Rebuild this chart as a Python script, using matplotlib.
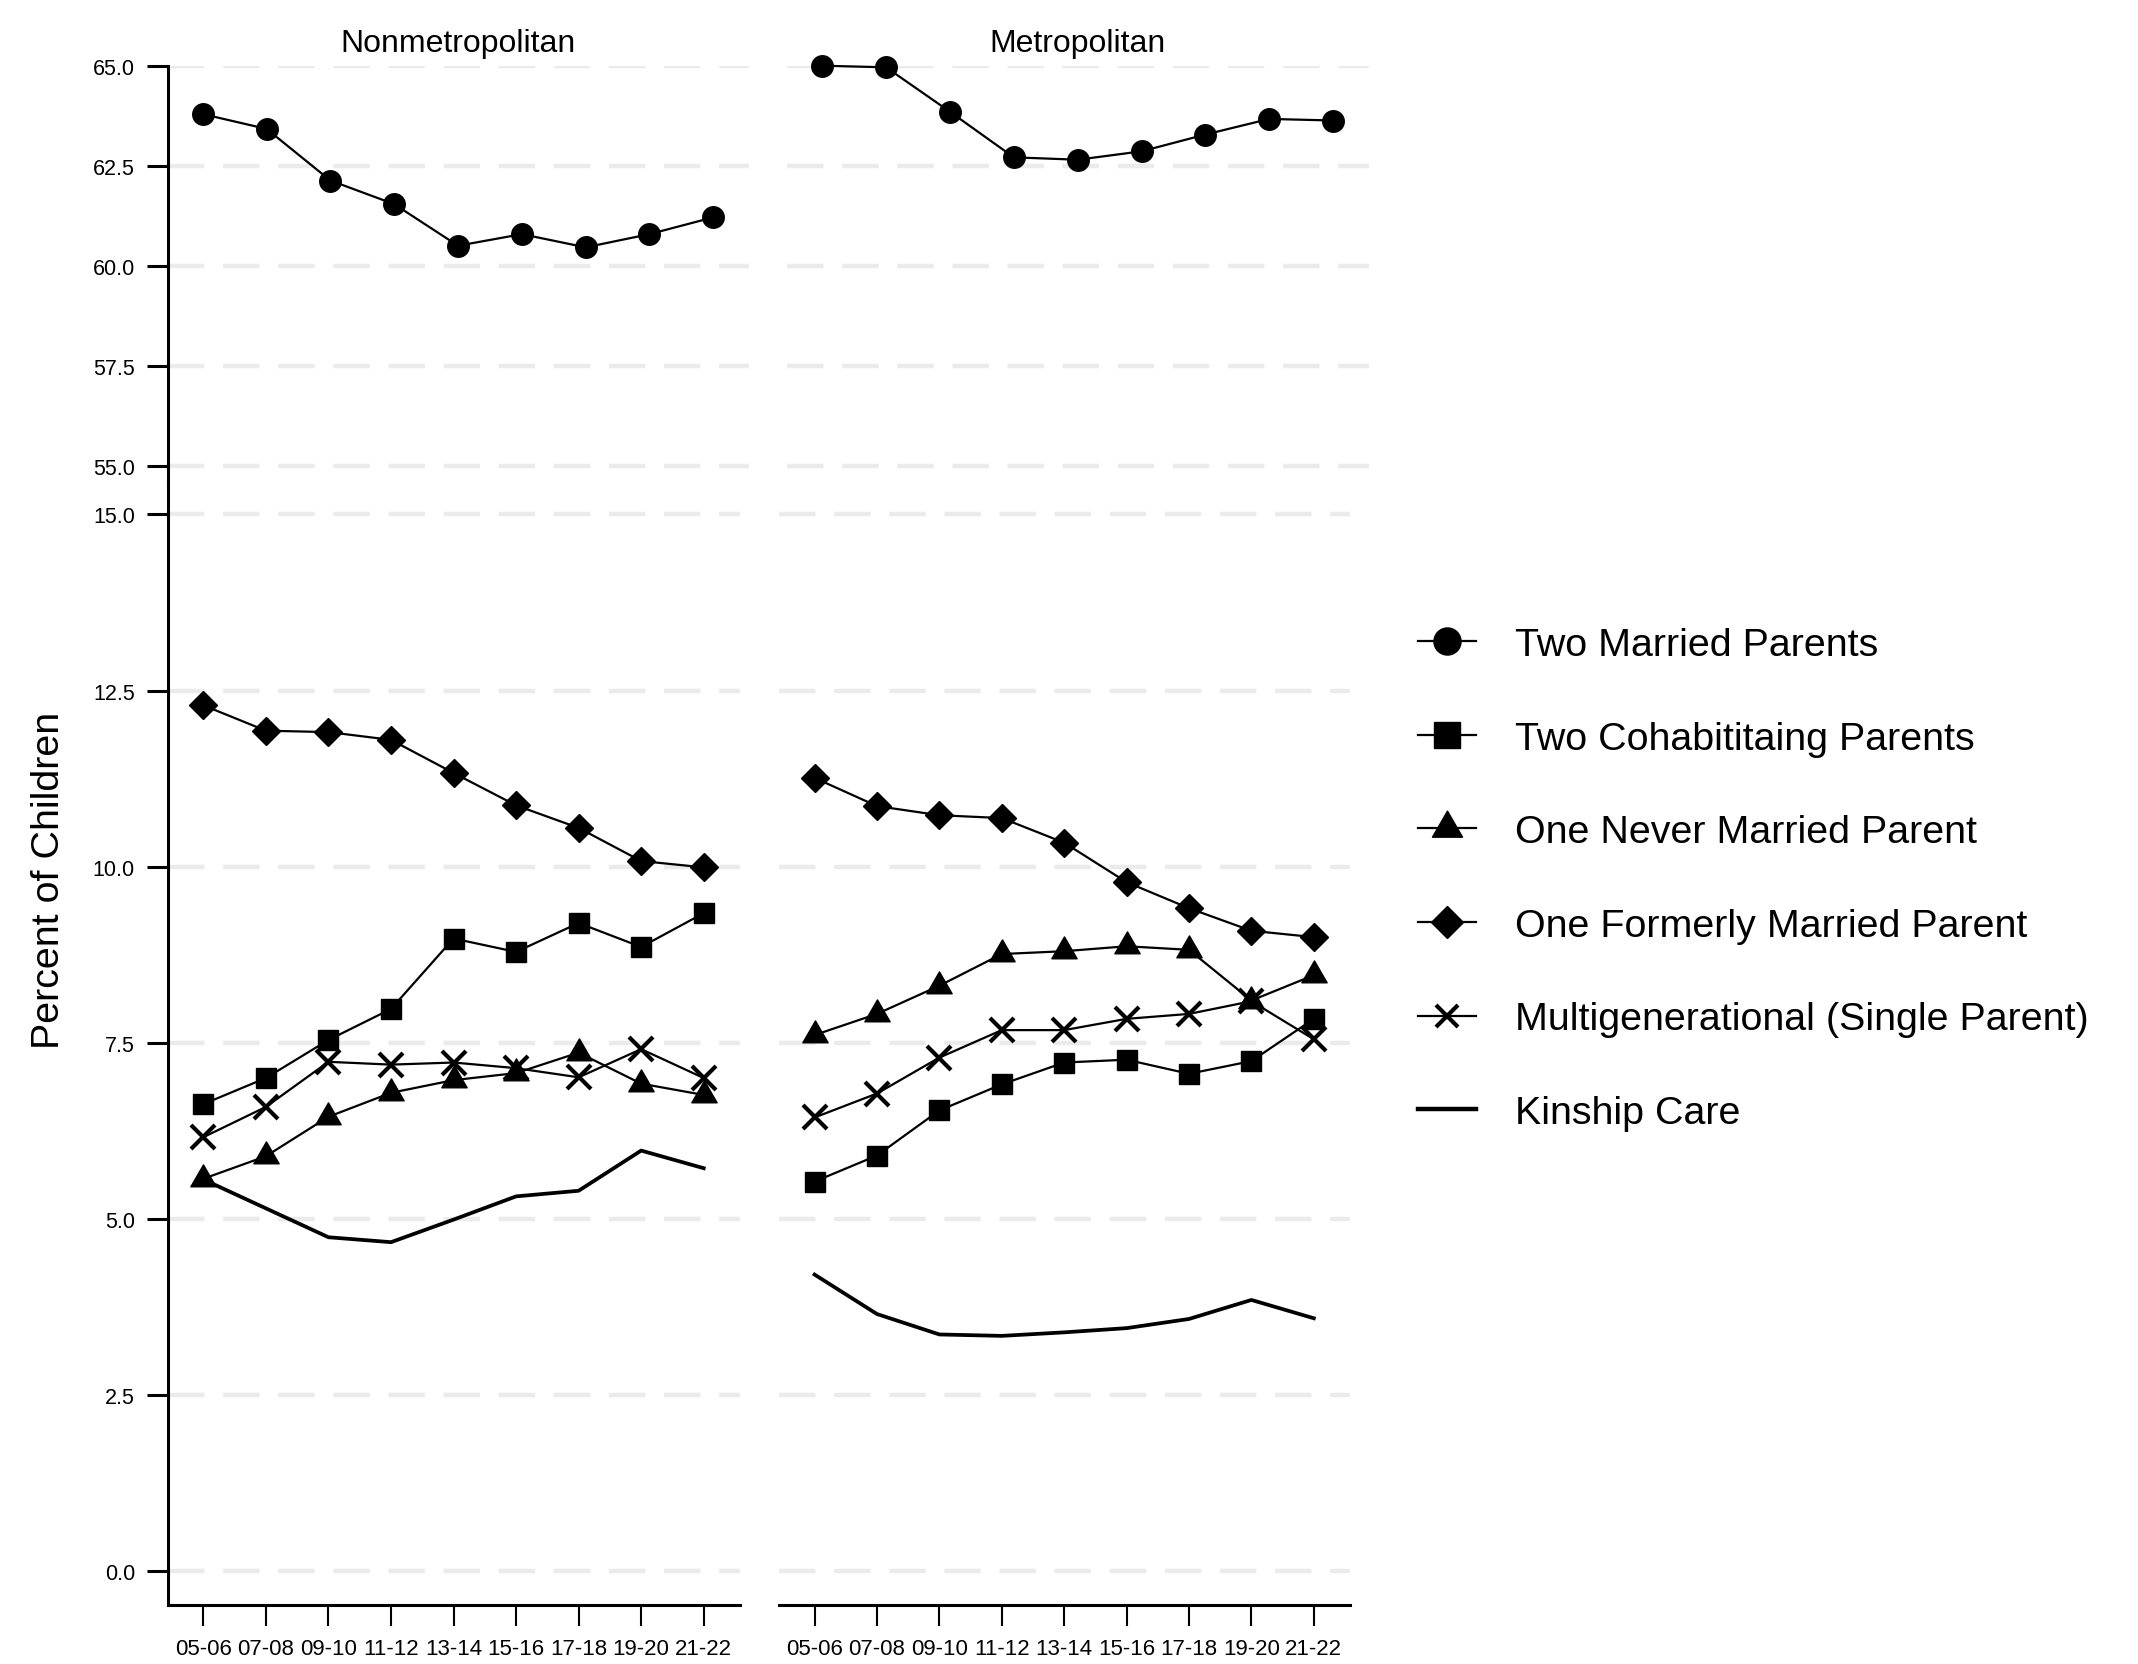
import matplotlib
matplotlib.use("Agg")
import matplotlib.pyplot as plt
from matplotlib.lines import Line2D
from matplotlib.path import Path

plt.rcParams['font.family'] = ['Liberation Sans', 'DejaVu Sans']

# ---- data -------------------------------------------------------------
periods = ["05-06", "07-08", "09-10", "11-12", "13-14", "15-16", "17-18", "19-20", "21-22"]
regions = ["Nonmetropolitan", "Metropolitan"]
series_names = ["Two Married Parents", "Two Cohabititaing Parents", "One Never Married Parent",
                "One Formerly Married Parent", "Multigenerational (Single Parent)", "Kinship Care"]

two_married_nonmetro = [63.79, 63.42, 62.13, 61.54, 60.50, 60.79, 60.46, 60.79, 61.21]
two_married_metro = [65.00, 64.96, 63.85, 62.71, 62.65, 62.86, 63.28, 63.67, 63.63]
cohab_nonmetro = [6.63, 7.00, 7.54, 7.98, 8.98, 8.79, 9.20, 8.86, 9.34]
cohab_metro = [5.53, 5.90, 6.54, 6.91, 7.22, 7.26, 7.06, 7.24, 7.84]
never_nonmetro = [5.57, 5.89, 6.45, 6.79, 6.97, 7.07, 7.36, 6.92, 6.76]
never_metro = [7.61, 7.91, 8.31, 8.76, 8.80, 8.87, 8.82, 8.10, 8.46]
formerly_nonmetro = [12.29, 11.93, 11.91, 11.80, 11.33, 10.87, 10.55, 10.08, 9.99]
formerly_metro = [11.26, 10.86, 10.73, 10.69, 10.34, 9.78, 9.41, 9.09, 9.00]
multigen_nonmetro = [6.16, 6.59, 7.23, 7.19, 7.22, 7.14, 7.01, 7.41, 7.00]
multigen_metro = [6.44, 6.78, 7.29, 7.68, 7.68, 7.84, 7.91, 8.09, 7.55]
kinship_nonmetro = [5.56, 5.15, 4.74, 4.67, 4.99, 5.32, 5.40, 5.97, 5.72]
kinship_metro = [4.21, 3.65, 3.36, 3.34, 3.39, 3.45, 3.58, 3.85, 3.59]

top_ticks = [55.0, 57.5, 60.0, 62.5, 65.0]
bottom_ticks = [0.0, 2.5, 5.0, 7.5, 10.0, 12.5, 15.0]

# ---- styling ------------------------------------------------------------
W, H = 2138, 1665
fig = plt.figure(figsize=(W / 100, H / 100), dpi=100)

tri = Path([(0, 1), (-0.866, -0.5), (0.866, -0.5), (0, 1)],
           [Path.MOVETO, Path.LINETO, Path.LINETO, Path.CLOSEPOLY])

styles = {
    "Two Married Parents": dict(marker="o", markersize=15.5, lw=1.6),
    "Two Cohabititaing Parents": dict(marker="s", markersize=14.0, lw=1.6),
    "One Never Married Parent": dict(marker=tri, markersize=21.0, lw=1.6),
    "One Formerly Married Parent": dict(marker="D", markersize=13.8, lw=1.6),
    "Multigenerational (Single Parent)": dict(marker="x", markersize=17.0, markeredgewidth=3.0, lw=1.6),
    "Kinship Care": dict(marker=None, lw=2.7),
}
legend_sizes = {
    "Two Married Parents": 19.5,
    "Two Cohabititaing Parents": 19.0,
    "One Never Married Parent": 25.0,
    "One Formerly Married Parent": 16.5,
    "Multigenerational (Single Parent)": 16.0,
}

GRID = dict(color="#EBEBEB", lw=3.2, ls=(0, (8.2, 4.2)))
SPINE_W = 2.2


def px_axes(x0, y0, x1, y1):
    return fig.add_axes([x0 / W, 1 - y1 / H, (x1 - x0) / W, (y1 - y0) / H])


ax_tl = px_axes(167.7, 66.7, 749, 482)
ax_tr = px_axes(787, 66.7, 1369, 482)
ax_bl = px_axes(167.7, 483, 740, 1606)
ax_br = px_axes(779, 483, 1350, 1606)

x = list(range(1, len(periods) + 1))

top_data = {ax_tl: two_married_nonmetro, ax_tr: two_married_metro}
bottom_data = {
    ax_bl: [cohab_nonmetro, never_nonmetro, formerly_nonmetro, multigen_nonmetro, kinship_nonmetro],
    ax_br: [cohab_metro, never_metro, formerly_metro, multigen_metro, kinship_metro],
}

for ax in (ax_tl, ax_tr, ax_bl, ax_br):
    ax.set_axisbelow(True)
    ax.yaxis.grid(True, **GRID)
    ax.xaxis.grid(False)
    for s in ("top", "right"):
        ax.spines[s].set_visible(False)
    ax.spines["left"].set_linewidth(SPINE_W)
    ax.spines["bottom"].set_linewidth(SPINE_W)
    ax.tick_params(axis="y", length=15, width=SPINE_W, pad=8.6, labelsize=15.5, direction="out")
    ax.tick_params(axis="x", length=15, width=1.5, pad=8.6, labelsize=16, direction="out")

# top row: two married parents
for ax, vals in top_data.items():
    ax.plot(x, vals, color="black", clip_on=False, **styles["Two Married Parents"])
    ax.set_xlim(0.45, 9.56)
    ax.set_ylim(54.62, 65.0)
    ax.set_yticks(top_ticks)
    ax.set_yticklabels([f"{t:.1f}" for t in top_ticks])
    ax.spines["bottom"].set_visible(False)
    ax.set_xticks([])

# bottom row: remaining arrangements
for ax, vals_list in bottom_data.items():
    for name, vals in zip(series_names[1:], vals_list):
        ax.plot(x, vals, color="black", clip_on=False, **styles[name])
    ax.set_xlim(0.43, 9.58)
    ax.set_ylim(-0.48, 15.46)
    ax.set_yticks(bottom_ticks)
    ax.set_yticklabels([f"{t:.1f}" for t in bottom_ticks])
    ax.set_xticks(x)
    ax.set_xticklabels(periods)

for ax in (ax_tr, ax_br):
    ax.spines["left"].set_visible(False)
    ax.tick_params(axis="y", left=False, labelleft=False)

ax_tl.set_title(regions[0], fontsize=23, pad=10.6)
ax_tr.set_title(regions[1], fontsize=23, pad=10.6)

fig.text(49 / W, 1 - 880 / H, "Percent of Children", rotation=90,
         ha="center", va="center", fontsize=28.4)

# legend
handles = []
for name in series_names:
    st = dict(styles[name])
    if name in legend_sizes:
        st["markersize"] = legend_sizes[name]
    if name == "Kinship Care":
        st["lw"] = 3.2
    handles.append(Line2D([], [], color="black", **st))

fig.legend(handles, series_names, loc="center left",
           bbox_to_anchor=(1418 / W, 1 - 880 / H), frameon=False,
           fontsize=28.4, handlelength=1.47, handletextpad=1.0,
           labelspacing=1.46, borderpad=0, borderaxespad=0)

fig.savefig("out.png", dpi=100)
